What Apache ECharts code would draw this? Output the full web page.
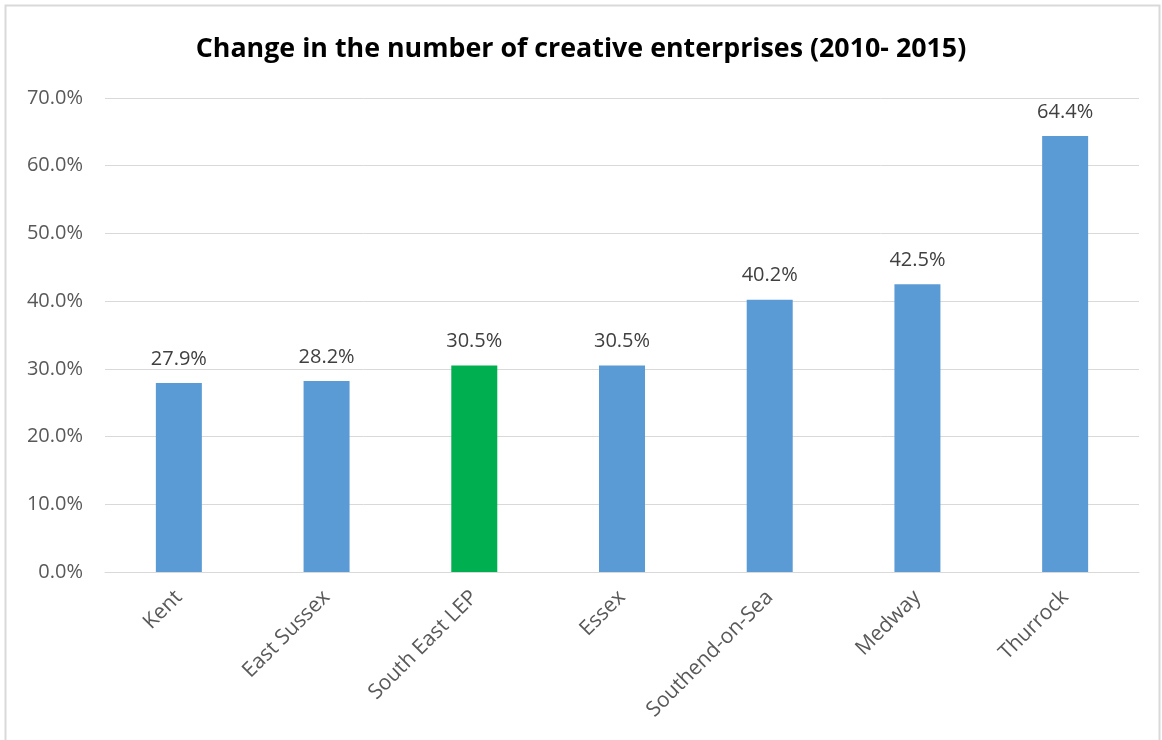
<!DOCTYPE html>
<html><head><meta charset="utf-8">
<script src="https://cdn.jsdelivr.net/npm/echarts@6/dist/echarts.min.js"></script>
<style>html,body{margin:0;padding:0;background:#fff}#c{width:1162px;height:740px}</style>
</head><body><div id="c"></div>
<script>
const categories = ["Kent","East Sussex","South East LEP","Essex","Southend-on-Sea","Medway","Thurrock"];
const values = [27.9, 28.2, 30.5, 30.5, 40.2, 42.5, 64.4];
const highlightCategory = "South East LEP";
const yTicks = [0,10,20,30,40,50,60,70];

const chart = echarts.init(document.getElementById('c'), null, {renderer:'canvas'});
chart.setOption({
  animation:false,
  backgroundColor:'#fff',
  graphic:[{type:'rect',shape:{x:5.5,y:5.5,width:1154,height:740},style:{fill:'none',stroke:'#d9d9d9',lineWidth:2},silent:true}],
  title:{text:'Change in the number of creative enterprises (2010- 2015)',left:'center',top:31,
    textStyle:{fontFamily:'Open Sans',fontWeight:'bold',fontSize:26.8,color:'#000'}},
  grid:{left:105,right:23,top:98,bottom:168,containLabel:false},
  xAxis:{type:'category',data:categories,
    axisLine:{lineStyle:{color:'#d9d9d9'}},axisTick:{show:false},
    axisLabel:{rotate:45,interval:0,margin:22,color:'#595959',fontSize:21,fontFamily:'Open Sans'}},
  yAxis:{type:'value',min:0,max:70,interval:10,
    axisLine:{show:false},axisTick:{show:false},
    splitLine:{lineStyle:{color:'#d9d9d9'}},
    axisLabel:{margin:22,color:'#595959',fontSize:20,fontFamily:'Open Sans',formatter:v=>v.toFixed(1)+'%'}},
  series:[{type:'bar',barWidth:46,
    data:values.map((v,i)=>({value:v,itemStyle:{color:categories[i]===highlightCategory?'#00B050':'#5B9BD5'}})),
    label:{show:true,position:'top',distance:14,color:'#404040',fontSize:20,fontFamily:'Open Sans',formatter:p=>p.value.toFixed(1)+'%'}}]
});
</script></body></html>
